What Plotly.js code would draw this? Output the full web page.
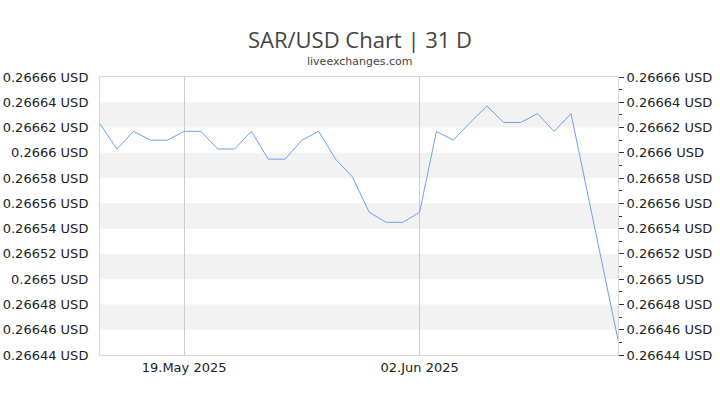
<!DOCTYPE html>
<html>
<head>
<meta charset="utf-8">
<script src="https://cdn.plot.ly/plotly-3.0.1.min.js"></script>
<style>html,body{margin:0;padding:0;background:#fff;}#chart{width:720px;height:405px;}</style>
</head>
<body>
<div id="chart"></div>
<script>
const dates = [
  '2025-05-14','2025-05-15','2025-05-16','2025-05-17','2025-05-18','2025-05-19','2025-05-20',
  '2025-05-21','2025-05-22','2025-05-23','2025-05-24','2025-05-25','2025-05-26','2025-05-27',
  '2025-05-28','2025-05-29','2025-05-30','2025-05-31','2025-06-01','2025-06-02','2025-06-03',
  '2025-06-04','2025-06-05','2025-06-06','2025-06-07','2025-06-08','2025-06-09','2025-06-10',
  '2025-06-11','2025-06-12','2025-06-13 19:00'
];
const rates = [
  0.266623,0.266603,0.266617,0.266610,0.266610,0.266617,0.266617,
  0.266603,0.266603,0.266617,0.266595,0.266595,0.266610,0.266617,
  0.266595,0.266581,0.266553,0.266545,0.266545,0.266553,0.266617,
  0.266610,0.266624,0.266637,0.266624,0.266624,0.266631,0.266617,
  0.266631,0.266567,0.266452
];
const yTicks = [0.26644,0.26646,0.26648,0.2665,0.26652,0.26654,0.26656,0.26658,0.2666,0.26662,0.26664,0.26666];
const yTickText = yTicks.map(v => v + ' USD');
const xTicks = ['2025-05-19','2025-06-02'];
const xTickText = ['19.May 2025','02.Jun 2025'];
const titleText = 'SAR/USD Chart | 31 D';
const subtitleText = 'liveexchanges.com';

const yRange = [yTicks[0], yTicks[yTicks.length-1]];
const bands = [];
for (let i = 1; i + 1 < yTicks.length; i += 2) {
  bands.push({type:'rect', xref:'paper', yref:'y', x0:0, x1:1, y0:yTicks[i], y1:yTicks[i+1],
    fillcolor:'#f2f2f2', line:{width:0}, layer:'below'});
}

const font = 'DejaVu Sans, Verdana, sans-serif';
const traces = [
  {x: dates, y: rates, type:'scatter', mode:'lines', line:{color:'#6f9ff0', width:1}, hoverinfo:'x+y'},
  {x: [dates[0]], y: [rates[0]], yaxis:'y2', type:'scatter', mode:'lines', showlegend:false, hoverinfo:'skip', line:{width:0}}
];
const layout = {
  width:720, height:405,
  margin:{l:100, r:102, t:77, b:50},
  paper_bgcolor:'#fff', plot_bgcolor:'#fff',
  showlegend:false,
  title:{text:titleText, x:0.5, xanchor:'center', y:1-40/405, yref:'container', yanchor:'middle',
    font:{family:'Open Sans, sans-serif', size:22, color:'#444'}},
  annotations:[{text:subtitleText, xref:'paper', yref:'paper', x:0.5, y:(355-62)/278, xanchor:'center', yanchor:'middle',
    showarrow:false, font:{family:font, size:11, color:'#444'}}],
  xaxis:{type:'date', range:[dates[0], dates[dates.length-1]], tickvals:xTicks, ticktext:xTickText,
    showgrid:true, gridcolor:'#cccccc', gridwidth:1, ticks:'', zeroline:false,
    showline:true, linecolor:'#d6d6d6', mirror:true,
    tickfont:{family:font, size:13, color:'#222'}},
  yaxis:{range:yRange, tickvals:yTicks, ticktext:yTickText, showgrid:false, zeroline:false,
    ticks:'', showline:true, linecolor:'#d6d6d6', mirror:true, ticklen:0, ticklabelstandoff:8,
    tickfont:{family:font, size:13, color:'#222'}},
  yaxis2:{range:yRange, overlaying:'y', side:'right', tickvals:yTicks, ticktext:yTickText,
    showgrid:false, zeroline:false, ticks:'outside', ticklen:5, tickcolor:'#333', tickwidth:1,
    minor:{ticks:'outside', ticklen:3, tickcolor:'#333', dtick:0.00001, tick0:0.26644, showgrid:false},
    showline:false, tickfont:{family:font, size:13, color:'#222'}},
  shapes: bands
};
Plotly.newPlot('chart', traces, layout, {staticPlot:true, displayModeBar:false});
</script>
</body>
</html>
